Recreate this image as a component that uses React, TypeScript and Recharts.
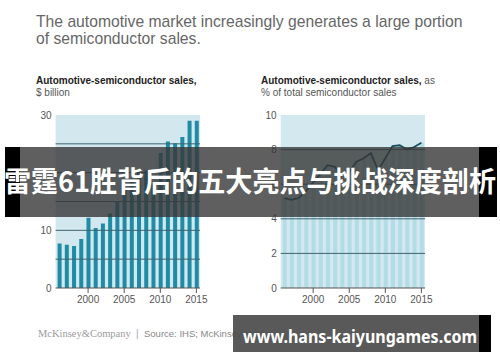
import { BarChart, ComposedChart, Bar, Line, XAxis, YAxis, CartesianGrid, ReferenceLine } from 'recharts'

const YEARS = [1996, 1997, 1998, 1999, 2000, 2001, 2002, 2003, 2004, 2005, 2006, 2007, 2008, 2009, 2010, 2011, 2012, 2013, 2014, 2015]
const SALES_BILLION = [7.7, 7.5, 7.3, 8.5, 12.2, 10.4, 11.2, 12.9, 15.0, 17.0, 18.7, 20.6, 20.4, 18.0, 23.4, 25.4, 25.1, 26.2, 29.0, 29.0]
const SHARE_PCT = [5.2, 5.1, 5.2, 5.6, 6.1, 6.6, 7.1, 7.0, 6.5, 6.7, 7.3, 7.5, 7.8, 6.8, 7.5, 8.2, 8.25, 8.0, 8.15, 8.4]

const X_TICKS = [2000, 2005, 2010, 2015]
const LEFT_TICKS = [0, 10, 20, 30]
const LEFT_GRID = [5, 10, 15, 20, 25]
const RIGHT_TICKS = [0, 2, 4, 6, 8, 10]
const RIGHT_GRID = [2, 4, 6, 8]

const data = YEARS.map((year, i) => ({ year, sales: SALES_BILLION[i], share: SHARE_PCT[i] }))

const axisTick = { fontSize: 10, fill: '#555', fontFamily: 'Liberation Sans, Arial, sans-serif' }
const gridColor = '#3e6470'

export default function App() {
  return (
    <div style={{ position: 'absolute', left: 0, top: 0, width: 500, height: 362, background: '#fff', overflow: 'hidden' }}>
      <div style={{ position: 'absolute', left: 20, top: 100 }}>
        <BarChart width={190} height={220} data={data} margin={{ top: 15, right: 10, bottom: 7, left: 5.6 }}>
          <CartesianGrid fill="#d2e7ee" horizontal={false} vertical={false} stroke="none" />
          <XAxis
            dataKey="year"
            type="number"
            domain={[1995.5, 2015.5]}
            ticks={X_TICKS}
            height={25}
            tickSize={5}
            tickMargin={3}
            stroke="#555"
            tick={axisTick}
            allowDataOverflow
          />
          <YAxis width={30} domain={[0, 30]} ticks={LEFT_TICKS} axisLine={false} tickLine={false} tickSize={0} tickMargin={4} tick={axisTick} />
          <Bar dataKey="sales" fill="#1f8ca6" barSize={4} isAnimationActive={false} />
          {LEFT_GRID.map(v => (
            <ReferenceLine key={v} y={v} stroke={gridColor} strokeWidth={1} />
          ))}
        </BarChart>
      </div>

      <div style={{ position: 'absolute', left: 250, top: 100 }}>
        <ComposedChart width={190} height={220} data={data} margin={{ top: 15, right: 15, bottom: 7, left: 5.7 }}>
          <CartesianGrid fill="#d3e8ef" horizontal={false} vertical={false} stroke="none" />
          <XAxis
            dataKey="year"
            type="number"
            domain={[1995.5, 2015.5]}
            ticks={X_TICKS}
            height={25}
            tickSize={5}
            tickMargin={3}
            stroke="#555"
            tick={axisTick}
            allowDataOverflow
          />
          <YAxis width={25} domain={[0, 10]} ticks={RIGHT_TICKS} axisLine={false} tickLine={false} tickSize={0} tickMargin={4} tick={axisTick} />
          <Bar dataKey="share" fill="#b2dce6" barSize={4} isAnimationActive={false} />
          {RIGHT_GRID.map(v => (
            <ReferenceLine key={v} y={v} stroke={gridColor} strokeWidth={1} />
          ))}
          <Line dataKey="share" stroke="#17505c" strokeWidth={1.8} dot={false} type="linear" isAnimationActive={false} />
        </ComposedChart>
      </div>

      <svg width={500} height={362} style={{ position: 'absolute', left: 0, top: 0, pointerEvents: 'none' }}>
        <g fontFamily="Liberation Sans, Arial, sans-serif">
          <text x={36} y={27} fontSize={15.7} fill="#666">The automotive market increasingly generates a large portion</text>
          <text x={36} y={44} fontSize={15.7} fill="#666">of semiconductor sales.</text>

          <text x={36} y={84} fontSize={10} fill="#222" fontWeight="bold">Automotive-semiconductor sales,</text>
          <text x={36} y={96} fontSize={10} fill="#555">$ billion</text>

          <text x={261} y={84} fontSize={10} fill="#222">
            <tspan fontWeight="bold">Automotive-semiconductor sales,</tspan>
            <tspan fill="#555"> as</tspan>
          </text>
          <text x={261} y={96} fontSize={10} fill="#555">% of total semiconductor sales</text>

          <text x={38} y={337} fontSize={10.5} fill="#9a9a9a" fontFamily="Liberation Serif, serif">McKinsey&amp;Company</text>
          <text x={136} y={337} fontSize={10} fill="#aaa">|</text>
          <text x={144} y={337} fontSize={9.5} fill="#888">Source: IHS; McKinsey analysis</text>
        </g>

        <rect x={5} y={147} width={15} height={70} fill="#000" />
        <rect x={479} y={147} width={18} height={70} fill="#000" />
        <rect x={20} y={147} width={459} height={70} fill="rgba(55,55,55,0.8)" />
        <text x={4} y={192} fontSize={28} fontWeight="bold" fill="#fff" fontFamily="Noto Sans CJK SC, sans-serif" textLength={492} lengthAdjust="spacingAndGlyphs">
          雷霆61胜背后的五大亮点与挑战深度剖析
        </text>

        <rect x={233} y={315} width={246} height={37} fill="rgba(75,75,75,0.92)" />
        <rect x={479} y={315} width={12} height={37} fill="#000" />
        <text x={243} y={343} fontSize={17} fontWeight="bold" fill="#fff" fontFamily="Noto Sans, DejaVu Sans, sans-serif" textLength={234} lengthAdjust="spacingAndGlyphs">
          www.hans-kaiyungames.com
        </text>
      </svg>
    </div>
  )
}
